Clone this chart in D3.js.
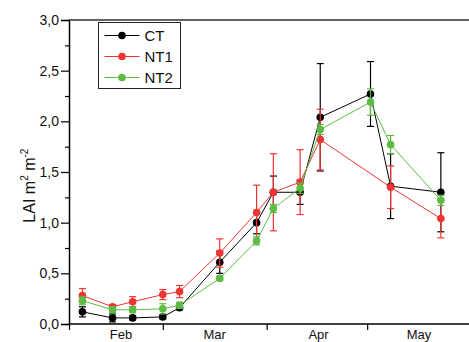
<!DOCTYPE html>
<html>
<head>
<meta charset="utf-8">
<script src="https://cdn.jsdelivr.net/npm/d3@7"></script>
<style>
  body { margin: 0; background: #fff; }
  text { font-family: "Liberation Sans", Arial, sans-serif; }
</style>
</head>
<body>
<div id="chart"></div>
<script>
// sampling dates
var dates = ["2013-02-05", "2013-02-14", "2013-02-20", "2013-03-01", "2013-03-06",
  "2013-03-18", "2013-03-29", "2013-04-03", "2013-04-11", "2013-04-17",
  "2013-05-02", "2013-05-08", "2013-05-23"];

var ct     = [0.12, 0.06, 0.06, 0.07, 0.16, 0.61, 1.00, 1.30, 1.30, 2.04, 2.27, 1.36, 1.30];
var ctErr  = [0.05, 0.04, 0.02, 0.02, 0.02, 0.11, 0.11, 0.16, 0.12, 0.53, 0.32, 0.32, 0.39];
var nt1    = [0.28, 0.17, 0.22, 0.29, 0.32, 0.70, 1.10, 1.30, 1.40, 1.82, null, 1.35, 1.04];
var nt1Err = [0.07, 0.02, 0.05, 0.05, 0.06, 0.14, 0.27, 0.38, 0.32, 0.30, null, 0.21, 0.19];
var nt2    = [0.23, 0.14, 0.14, 0.15, 0.185, 0.45, 0.82, 1.14, 1.34, 1.92, 2.19, 1.77, 1.22];
var nt2Err = [0.04, 0.03, 0.03, 0.05, 0.03, 0.02, 0.04, 0.04, 0.05, 0.05, 0.13, 0.09, 0.05];

var monthLabels = ["Feb", "Mar", "Apr", "May"];
var yTicks = [0, 0.5, 1.0, 1.5, 2.0, 2.5, 3.0];

var series = [
  { name: "CT", values: ct, errs: ctErr, color: "#000000" },
  { name: "NT1", values: nt1, errs: nt1Err, color: "#ef3434" },
  { name: "NT2", values: nt2, errs: nt2Err, color: "#5dbb44" }
];

var svgWidth = 469;
var svgHeight = 342;
var margin = { top: 20, right: 0, bottom: 18, left: 69 };
var width = svgWidth - margin.left - margin.right;
var height = 304;

var parse = d3.timeParse("%Y-%m-%d");

var svg = d3.select("#chart")
  .append("svg")
  .attr("width", svgWidth)
  .attr("height", svgHeight);

var chartGroup = svg.append("g")
  .attr("transform", `translate(${margin.left}, ${margin.top})`);

var xScale = d3.scaleTime()
  .domain([parse("2013-02-01"), parse("2013-06-01")])
  .range([0, 402]);

var yScale = d3.scaleLinear()
  .domain([0, 3])
  .range([height, 0]);

// top frame line
chartGroup.append("line")
  .attr("x1", 0).attr("x2", width + 2)
  .attr("y1", 0).attr("y2", 0)
  .attr("stroke", "#333")
  .attr("stroke-width", 1.5);

// y axis (major + minor ticks)
var leftAxis = d3.axisLeft(yScale)
  .tickValues(yTicks)
  .tickSize(8)
  .tickFormat(d => d3.format(".1f")(d).replace(".", ","));

var yAxis = chartGroup.append("g").call(leftAxis);
yAxis.select(".domain").attr("stroke-width", 1.5);
yAxis.selectAll(".tick line").attr("stroke-width", 1.2);
yAxis.selectAll("text")
  .attr("font-size", 14)
  .attr("fill", "#111")
  .attr("x", -10);

chartGroup.append("g")
  .call(d3.axisLeft(yScale).tickValues(d3.range(0.25, 3, 0.5)).tickSize(4).tickFormat(""))
  .call(g => g.select(".domain").remove())
  .selectAll(".tick line").attr("stroke-width", 1.2);

// x axis: month boundaries as ticks, names in the middle
var monthStarts = [parse("2013-02-01"), parse("2013-03-01"), parse("2013-04-01"), parse("2013-05-01")];
var bottomAxis = d3.axisBottom(xScale)
  .tickValues(monthStarts)
  .tickSize(6)
  .tickFormat("");

var xAxis = chartGroup.append("g")
  .attr("transform", `translate(0, ${height})`)
  .call(bottomAxis);
xAxis.select(".domain")
  .attr("d", `M0,0H${width + 2}`)
  .attr("stroke-width", 1.5);
xAxis.selectAll(".tick line").attr("stroke-width", 1.2);

chartGroup.append("g")
  .selectAll("text")
  .data(monthLabels)
  .enter()
  .append("text")
  .attr("x", (d, i) => xScale(d3.timeHour.offset(d3.timeDay.offset(monthStarts[i], 15), 12)))
  .attr("y", height + 15)
  .attr("text-anchor", "middle")
  .attr("font-size", 13)
  .attr("fill", "#111")
  .text(d => d);

// y axis title
var yTitle = chartGroup.append("text")
  .attr("transform", `translate(-34, ${yScale(1.0)}) rotate(-90)`)
  .attr("font-size", 16)
  .attr("fill", "#111");
yTitle.append("tspan").text("LAI m");
yTitle.append("tspan").attr("font-size", 10).attr("dy", -7).text("2");
yTitle.append("tspan").attr("dy", 7).text(" m");
yTitle.append("tspan").attr("font-size", 10).attr("dy", -7).text("-2");

// series: lines, error bars, markers
series.forEach(function(s) {
  var points = dates.map((d, i) => ({ date: parse(d), value: s.values[i], err: s.errs[i] }))
    .filter(p => p.value !== null);

  var line = d3.line()
    .x(d => xScale(d.date))
    .y(d => yScale(d.value));

  var g = chartGroup.append("g");

  g.append("path")
    .datum(points)
    .attr("fill", "none")
    .attr("stroke", s.color)
    .attr("stroke-width", 1)
    .attr("d", line);

  var bars = g.selectAll(".err")
    .data(points)
    .enter()
    .append("g")
    .attr("stroke", s.color)
    .attr("stroke-width", 1.2);

  bars.append("line")
    .attr("x1", d => xScale(d.date)).attr("x2", d => xScale(d.date))
    .attr("y1", d => yScale(d.value - d.err)).attr("y2", d => yScale(d.value + d.err));
  bars.append("line")
    .attr("x1", d => xScale(d.date) - 3.5).attr("x2", d => xScale(d.date) + 3.5)
    .attr("y1", d => yScale(d.value + d.err)).attr("y2", d => yScale(d.value + d.err));
  bars.append("line")
    .attr("x1", d => xScale(d.date) - 3.5).attr("x2", d => xScale(d.date) + 3.5)
    .attr("y1", d => yScale(d.value - d.err)).attr("y2", d => yScale(d.value - d.err));

  g.selectAll("circle")
    .data(points)
    .enter()
    .append("circle")
    .attr("cx", d => xScale(d.date))
    .attr("cy", d => yScale(d.value))
    .attr("r", 3.8)
    .attr("fill", s.color);
});

// legend
var legend = svg.append("g")
  .attr("transform", "translate(98.5, 22.5)");

legend.append("rect")
  .attr("width", 82)
  .attr("height", 66)
  .attr("fill", "#fff")
  .attr("stroke", "#222")
  .attr("stroke-width", 1);

series.forEach(function(s, i) {
  var y = 13 + i * 21;
  legend.append("line")
    .attr("x1", 6).attr("x2", 41)
    .attr("y1", y).attr("y2", y)
    .attr("stroke", s.color)
    .attr("stroke-width", 1);
  legend.append("circle")
    .attr("cx", 23.5).attr("cy", y)
    .attr("r", 3.8)
    .attr("fill", s.color);
  legend.append("text")
    .attr("x", 46)
    .attr("y", y + 5.5)
    .attr("font-size", 15)
    .attr("fill", "#111")
    .text(s.name);
});
</script>
</body>
</html>
